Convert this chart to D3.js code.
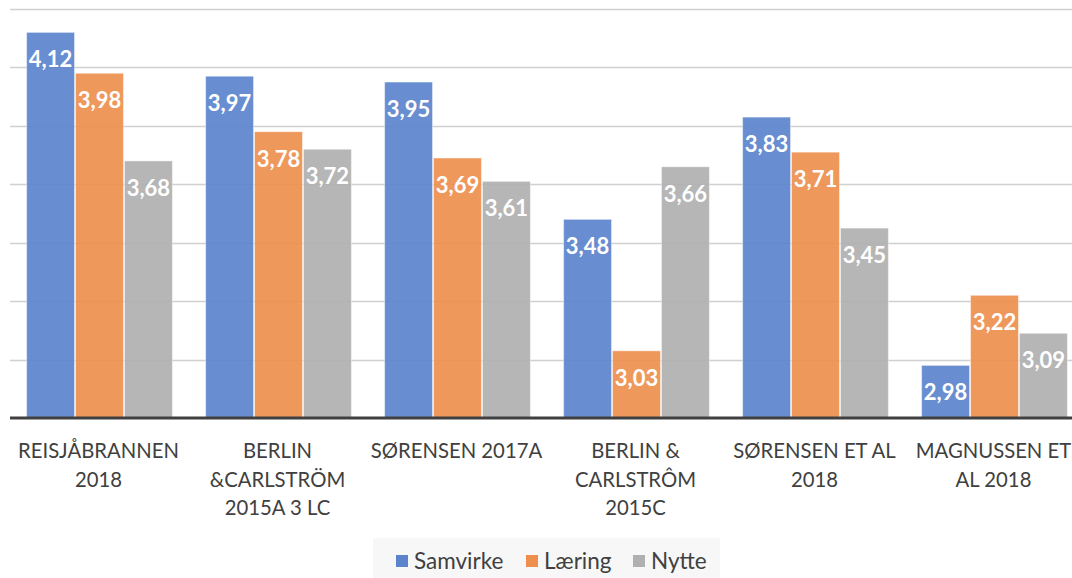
<!DOCTYPE html>
<html><head><meta charset="utf-8">
<script src="https://cdn.jsdelivr.net/npm/d3@7"></script>
<style>
html,body{margin:0;padding:0;background:#fff;overflow:hidden}
svg{display:block}
</style></head>
<body>
<svg id="c" width="1072" height="578"></svg>
<script>
const categories = [
  ["REISJÅBRANNEN","2018"],
  ["BERLIN","&CARLSTRÖM","2015A 3 LC"],
  ["SØRENSEN 2017A"],
  ["BERLIN &","CARLSTRÔM","2015C"],
  ["SØRENSEN ET AL","2018"],
  ["MAGNUSSEN ET","AL 2018"]
];
const seriesNames = ["Samvirke","Læring","Nytte"];
const samvirke = [4.12,3.97,3.95,3.48,3.83,2.98];
const laering  = [3.98,3.78,3.69,3.03,3.71,3.22];
const nytte    = [3.68,3.72,3.61,3.66,3.45,3.09];
const yTicks = [2.8,3.0,3.2,3.4,3.6,3.8,4.0,4.2];
const colors = ["#5B84CD","#EE8F4E","#B0B0B0"];

const series = [samvirke, laering, nytte];
const svg = d3.select("#c");
const catKeys = categories.map((c,i)=>"c"+i);

const x0 = d3.scaleBand().domain(catKeys).range([10,1084]).paddingInner(0.18).paddingOuter(0.09);
const x1 = d3.scaleBand().domain(seriesNames).range([0,x0.bandwidth()]).padding(0);
const y = d3.scaleLinear().domain([2.8,4.2]).range([418,9]);

// gridlines
svg.append("g").selectAll("line").data(yTicks.slice(1)).join("line")
  .attr("x1",10).attr("x2",1072)
  .attr("y1",d=>Math.round(y(d))+0.5).attr("y2",d=>Math.round(y(d))+0.5)
  .attr("stroke","#D0D0D0").attr("stroke-width",1.3);

// bars
const g = svg.append("g").selectAll("g").data(catKeys).join("g")
  .attr("transform",d=>`translate(${x0(d)},0)`);
g.each(function(k,i){
  const gg = d3.select(this);
  seriesNames.forEach((s,j)=>{
    const v = series[j][i];
    gg.append("rect")
      .attr("x",x1(s)+0.5).attr("width",x1.bandwidth()-1)
      .attr("y",y(v)).attr("height",y(2.8)-y(v))
      .attr("fill",colors[j]).attr("fill-opacity",0.92)
      .attr("stroke","#ffffff").attr("stroke-opacity",0.45).attr("stroke-width",1);
    gg.append("text")
      .attr("x",x1(s)+x1.bandwidth()/2).attr("y",y(v)+35)
      .attr("text-anchor","middle")
      .attr("font-family","Lato, 'Open Sans', sans-serif").attr("font-weight","bold")
      .attr("font-size",22).attr("fill","#fff")
      .text(d3.format(".2f")(v).replace(".",","));
  });
});

// baseline
svg.append("line").attr("x1",10).attr("x2",1072)
  .attr("y1",y(2.8)).attr("y2",y(2.8))
  .attr("stroke","#404040").attr("stroke-width",3);

// category labels
const xa = svg.append("g");
categories.forEach((lines,i)=>{
  const cx = x0(catKeys[i]) + x0.bandwidth()/2 - 1;
  const t = xa.append("text").attr("text-anchor","middle")
    .attr("font-family","Lato, 'Open Sans', sans-serif").attr("font-size",20.3)
    .attr("fill","#404040");
  lines.forEach((ln,k)=>{
    t.append("tspan").attr("x",cx).attr("y",458+k*28.7).text(ln);
  });
});

// legend
svg.append("rect").attr("x",373).attr("y",538).attr("width",347).attr("height",40).attr("fill","#F7F7F7");
const legendX = [396,526,633];
seriesNames.forEach((s,j)=>{
  svg.append("rect").attr("x",legendX[j]).attr("y",555).attr("width",12).attr("height",12)
    .attr("fill",colors[j]);
  svg.append("text").attr("x",legendX[j]+18).attr("y",569)
    .attr("font-family","Lato, 'Open Sans', sans-serif").attr("font-size",22.5)
    .attr("fill","#404040").text(s);
});
</script>
</body></html>
